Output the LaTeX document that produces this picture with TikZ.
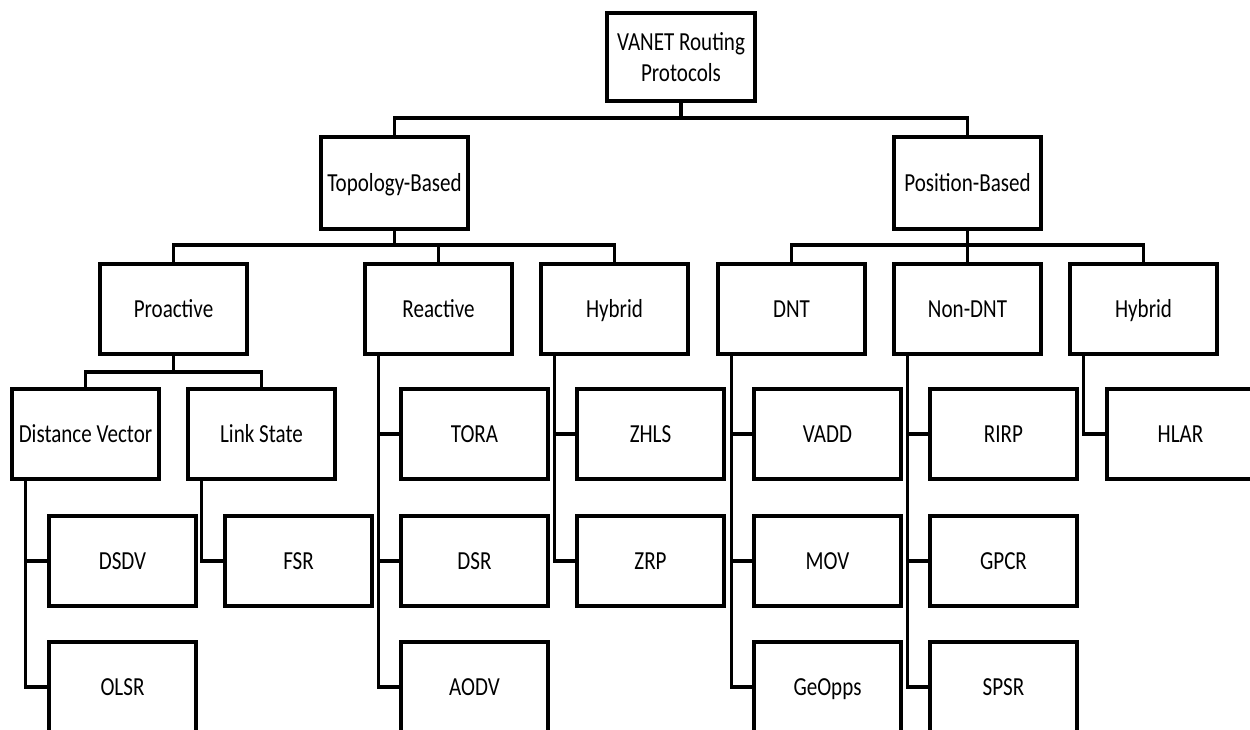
\documentclass[tikz,border=0pt]{standalone}
\usepackage{fontspec}
\setmainfont{Carlito}[FakeStretch=0.81]
\begin{document}
\begin{tikzpicture}[x=1pt,y=-1pt,
  frame/.style={draw, line width=3.3pt, minimum width=147pt, minimum height=90pt,
    inner sep=0pt, align=center, font=\fontsize{26}{31}\selectfont},
  box/.style={frame, text height=20pt, text depth=3.3pt},
  link/.style={line width=3.3pt, line cap=rect}]
\fill[white] (0,0) rectangle (1250,729);
\useasboundingbox (0,0) rectangle (1250,729);
\clip (0,0) rectangle (1250,729);

% levels of horizontal bars
\coordinate (b0) at (0,118);
\coordinate (b1) at (0,245);
\coordinate (b2) at (0,372);

% root and main families
\node[frame, minimum width=148pt, minimum height=88pt] (root) at (681,57) {VANET Routing\\Protocols};
\node[box, minimum height=92pt] (topo) at (394.5,183) {Topology-Based};
\node[box, minimum height=92pt] (pos) at (967.5,183) {Position-Based};

% second level
\node[box] (pro) at (173.5,309) {Proactive};
\node[box] (rea) at (438.5,309) {Reactive};
\node[box] (hyt) at (614.5,309) {Hybrid};
\node[box] (dnt) at (791.5,309) {DNT};
\node[box] (ndnt) at (967.5,309) {Non-DNT};
\node[box] (hyp) at (1143.5,309) {Hybrid};

% proactive subclasses
\node[box] (dv) at (85.5,434) {Distance Vector};
\node[box] (ls) at (261.5,434) {Link State};

% protocols
\node[box] (dsdv) at (122.5,561) {DSDV};
\node[box] (olsr) at (122.5,687) {OLSR};
\node[box] (fsr) at (298.5,561) {FSR};

\node[box] (tora) at (474.5,434) {TORA};
\node[box] (dsr) at (474.5,561) {DSR};
\node[box] (aodv) at (474.5,687) {AODV};

\node[box] (zhls) at (650.5,434) {ZHLS};
\node[box] (zrp) at (650.5,561) {ZRP};

\node[box] (vadd) at (827.5,434) {VADD};
\node[box] (mov) at (827.5,561) {MOV};
\node[box] (geo) at (827.5,687) {GeOpps};

\node[box] (rirp) at (1003.5,434) {RIRP};
\node[box] (gpcr) at (1003.5,561) {GPCR};
\node[box] (spsr) at (1003.5,687) {SPSR};

\node[box] (hlar) at (1180.5,434) {HLAR};

% root to families
\draw[link] (root.south) -- (root.south |- b0);
\draw[link] (topo.north) -- (topo.north |- b0) -- (pos.north |- b0) -- (pos.north);

% families to second level
\draw[link] (topo.south) -- (topo.south |- b1);
\draw[link] (pro.north) -- (pro.north |- b1) -- (hyt.north |- b1) -- (hyt.north);
\draw[link] (rea.north) -- (rea.north |- b1);
\draw[link] (pos.south) -- (ndnt.north);
\draw[link] (dnt.north) -- (dnt.north |- b1) -- (hyp.north |- b1) -- (hyp.north);

% proactive split
\draw[link] (pro.south) -- (pro.south |- b2);
\draw[link] (dv.north) -- (dv.north |- b2) -- (ls.north |- b2) -- (ls.north);

% side rails to protocol boxes
\coordinate (rdv) at ([xshift=15pt]dv.south west);
\draw[link] (rdv) |- (olsr.west);
\draw[link] (dsdv.west) -- (dsdv.west -| rdv);

\coordinate (rls) at ([xshift=15pt]ls.south west);
\draw[link] (rls) |- (fsr.west);

\coordinate (rrea) at ([xshift=15pt]rea.south west);
\draw[link] (rrea) |- (aodv.west);
\draw[link] (tora.west) -- (tora.west -| rrea);
\draw[link] (dsr.west) -- (dsr.west -| rrea);

\coordinate (rhyt) at ([xshift=15pt]hyt.south west);
\draw[link] (rhyt) |- (zrp.west);
\draw[link] (zhls.west) -- (zhls.west -| rhyt);

\coordinate (rdnt) at ([xshift=15pt]dnt.south west);
\draw[link] (rdnt) |- (geo.west);
\draw[link] (vadd.west) -- (vadd.west -| rdnt);
\draw[link] (mov.west) -- (mov.west -| rdnt);

\coordinate (rndnt) at ([xshift=15pt]ndnt.south west);
\draw[link] (rndnt) |- (spsr.west);
\draw[link] (rirp.west) -- (rirp.west -| rndnt);
\draw[link] (gpcr.west) -- (gpcr.west -| rndnt);

\coordinate (rhyp) at ([xshift=15pt]hyp.south west);
\draw[link] (rhyp) |- (hlar.west);
\end{tikzpicture}
\end{document}
